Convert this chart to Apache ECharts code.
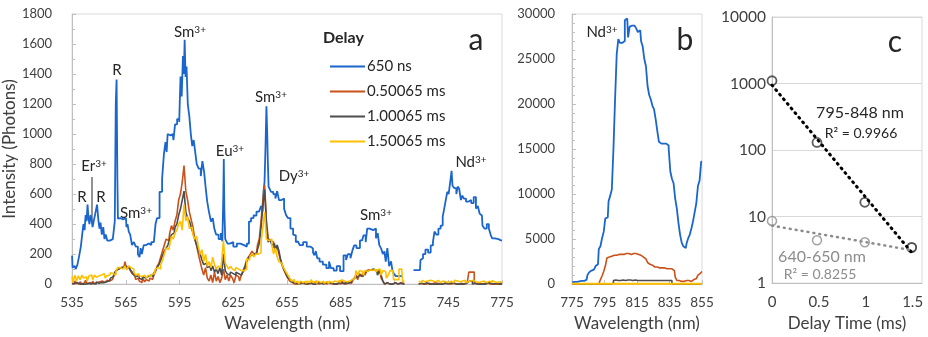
<!DOCTYPE html>
<html>
<head>
<meta charset="utf-8">
<script src="https://cdn.jsdelivr.net/npm/echarts@6/dist/echarts.min.js"></script>
<style>
html, body { margin: 0; padding: 0; background: #fff; }
#chart { width: 928px; height: 337px; }
</style>
</head>
<body>
<div id="chart"></div>
<script>
// ---- data ----
const delayNames = ['650 ns', '0.50065 ms', '1.00065 ms', '1.50065 ms'];
const ticksA = [535, 565, 595, 625, 655, 685, 715, 745, 775];
const ticksB = [775, 795, 815, 835, 855];
const ticksC = [0, 0.5, 1, 1.5];

// panel a, 650 ns (nm, photons); '-' = no data
const blueA = [
  [535,190],[535.6,110],[536.5,120],[537.5,100],[538.5,130],[539.5,190],[540.3,250],[541,330],[541.7,400],[542.3,360],
  [542.8,460],[543.4,420],[543.9,530],[544.4,440],[545,400],[545.6,460],[546.2,430],[546.7,380],[547.5,420],[548.4,470],
  [549.5,530],[550,420],[550.6,370],[551.2,410],[552,330],[552.8,380],[553.4,300],[554.2,330],[555.1,290],[557,300],
  [558.5,290],[559.2,420],[559.6,1200],[560.1,1364],[560.5,700],[560.7,437],[562,440],[563.5,430],[565.1,440],[565.6,380],
  [566.3,400],[567,350],[567.9,330],[569,260],[570,280],[571.2,250],[572.3,200],[573,180],[573.6,240],[574.3,200],
  [575.7,260],[577,270],[578.5,260],[580,280],[581.3,270],[581.9,400],[583,440],[584.7,615],[585.8,700],[586.8,870],
  [587.5,946],[588.1,880],[588.6,1000],[590,990],[591.2,1000],[592,960],[593,1065],[594.3,1100],[595.3,1080],[595.8,1384],
  [596.6,1250],[597.2,1520],[597.6,1400],[598.1,1628],[598.6,1380],[599.2,1450],[600,1200],[600.9,1119],[601.7,1000],[602.5,920],
  [603.3,960],[604.2,880],[605,800],[606.4,770],[607.3,720],[608.2,820],[609.2,748],[610,640],[610.9,549],[612,480],
  [613.1,417],[614,440],[614.8,370],[616,330],[617.6,300],[618.5,340],[619.3,285],[619.6,600],[619.8,834],[620.2,500],
  [620.8,300],[621.5,285],[622.1,270],[624,280],[626,250],[628,270],[630,260],[632,250],[633.2,270],[634.3,417],
  [635.5,440],[637.1,457],[638.8,483],[640,470],[641,520],[641.6,483],[642.2,620],[642.7,682],[643.2,900],[643.8,1185],
  [644.1,1000],[644.4,834],[645,650],[645.5,636],[646.6,615],[648,600],[649,570],[650,620],[651,560],[652.8,570],
  [653.9,503],[655,460],[656,440],[657.8,370],[659,330],[659.5,325],[660.3,280],[661.1,285],[663,260],[665,280],
  [667,250],[669,238],[670,210],[670.6,192],[671.5,220],[672.3,172],[674,150],[676,130],[677.9,106],[679,150],
  [680.1,106],[682,90],[683.5,120],[685.7,86],[687.4,192],[688.5,160],[689.5,200],[691.3,172],[692,230],[693,258],
  [694.5,240],[696.9,291],[698.5,325],[699.3,280],[700.2,370],[702,360],[704.1,370],[705.2,305],[706,340],[707,260],
  [708,238],[709,200],[709.7,218],[710.5,150],[711.5,240],[712.5,120],[713.6,152],[714.2,86],[715,70],[716.4,53],
  [722,'-'],
  [729.2,93],[729.8,160],[730.3,172],[731.5,200],[733,230],[734.5,210],[735.9,258],[737,280],[737.6,350],[739,330],
  [740,370],[741.5,390],[742.3,450],[743.2,503],[744,560],[744.9,615],[745.5,600],[746,590],[746.6,700],[747.1,755],
  [747.6,655],[749,640],[750,600],[750.6,650],[751.6,636],[752.5,560],[753.2,590],[754.3,570],[755.5,550],[757.1,560],
  [758.5,540],[759.9,580],[761,503],[762,520],[763,470],[763.8,457],[764.4,390],[766,370],[767,400],[768.3,370],
  [769,330],[770,305],[772.2,300],[773.9,291],[775,291]
];

// panel a, later delays: one value per nm from 535 to 775, null = no data (721-728)
const orangeA = [
  10,0,20,5,0,15,0,10,25,0,10,5,20,0,10,15,5,20,10,15,25,20,
  30,40,60,90,100,110,120,115,150,100,120,90,70,
  60,30,40,20,10,40,15,30,20,40,30,60,80,
  120,140,180,220,260,300,290,340,390,360,420,460,560,600,680,
  790,620,560,480,430,380,300,260,200,150,100,60,110,40,20,
  60,10,80,20,50,10,40,100,30,60,20,60,40,10,60,50,20,60,80,100,
  150,180,200,220,200,210,260,300,420,560,
  660,420,300,290,280,250,230,250,200,150,120,90,60,40,20,10,0,5,
  0,10,0,5,0,10,0,5,0,10,20,5,0,10,0,5,0,15,5,0,10,0,5,10,0,20,5,0,10,0,5,20,
  40,60,30,70,50,80,60,90,95,95,90,95,90,85,80,40,20,0,10,0,5,0,10,5,0,10,0,5,
  null,null,null,null,null,null,null,null,
  0,5,0,10,0,5,0,0,10,0,5,0,5,0,10,0,5,0,0,5,0,10,0,5,0,0,5,0,80,80,80,10,0,5,0,0,5,0,10,0,5,0,0,5,0,5,0
];
const greyA = [
  0,5,0,10,0,5,0,0,10,5,0,10,5,0,15,5,10,20,10,15,20,25,
  40,50,70,90,100,110,100,110,120,105,110,95,80,
  60,50,60,40,30,50,40,50,40,60,50,70,90,
  110,130,160,190,220,240,260,300,330,340,380,400,460,500,560,
  620,480,440,420,380,340,300,260,220,200,160,130,140,110,120,
  90,120,80,100,70,110,60,200,90,70,60,80,70,60,80,70,60,70,90,120,
  160,180,190,200,190,200,230,270,380,520,
  630,400,280,300,260,270,230,260,220,160,120,90,70,40,30,15,10,5,
  5,0,10,0,5,0,0,10,0,5,0,10,0,5,0,0,10,5,0,10,0,5,0,10,0,5,0,15,5,10,20,30,
  40,50,40,60,50,70,80,90,100,95,100,95,90,60,90,60,20,0,10,0,5,0,10,0,0,5,0,0,
  null,null,null,null,null,null,null,null,
  0,5,0,0,10,0,5,0,0,5,0,0,10,0,5,0,0,5,0,10,0,5,0,0,5,0,10,0,20,20,0,5,0,10,0,0,5,0,10,0,5,0,0,5,0,10,0
];
const yellowA = [
  50,10,60,20,55,30,60,40,50,20,55,60,30,60,45,55,60,50,70,40,55,60,
  75,70,60,85,110,110,100,110,120,95,120,110,100,
  80,60,70,55,50,60,50,40,60,50,65,70,100,
  110,100,130,160,200,240,230,260,320,300,340,360,400,420,360,
  530,420,450,370,380,330,300,320,250,200,230,150,200,120,150,
  110,180,130,100,120,110,150,290,140,120,100,120,100,90,110,100,90,90,90,100,
  170,160,190,200,180,200,200,210,280,380,
  480,300,290,300,260,200,240,180,150,140,120,100,80,60,40,20,30,10,
  20,0,20,10,20,5,20,10,30,10,20,5,20,10,20,5,15,5,20,10,20,25,15,25,10,30,20,15,25,20,30,30,
  40,90,60,90,85,60,90,85,95,95,90,100,80,95,100,60,90,85,40,60,90,90,30,30,30,100,100,20,
  null,null,null,null,null,null,null,null,
  20,10,25,15,20,10,25,20,10,15,25,20,10,20,15,25,10,20,15,10,25,20,15,10,20,25,10,15,20,10,25,15,20,10,15,25,20,10,15,20,10,25,15,10,20,15,10
];

// panel b: one value per nm from 775 to 855
const blueB = [
  200,250,200,250,300,300,350,350,400,500,
  1000,1300,1500,1600,1800,2000,2200,3900,4200,5100,
  5800,7300,7400,9200,9800,10500,15000,20500,25500,27200,
  26800,26800,27000,29300,29500,27400,28600,28700,28700,28600,
  28400,28000,28200,27000,26400,25000,24200,22000,21000,20500,
  19800,19400,18300,17000,15800,15600,15600,15400,15600,15400,
  15000,12500,11700,11200,9500,8400,6800,5500,4600,4200,
  4000,4500,5100,5500,6200,7000,8000,9000,10900,11500,13600
];
const orangeB = [
  0,0,0,0,0,0,0,0,0,0,
  0,0,0,0,0,0,0,100,500,900,
  1400,2000,2900,3000,3100,3200,3200,3200,3300,3300,
  3300,3300,3300,3400,3400,3400,3300,3400,3400,3400,
  3400,3300,3200,3100,3000,2800,2600,2400,2200,2100,
  2000,1900,1900,1800,1800,1800,1800,1800,1700,1700,
  1700,1700,1700,1500,800,400,400,300,400,300,
  400,300,400,300,400,500,600,800,1000,1200,1400
];
const greyB = [
  0,0,0,0,0,0,0,0,0,0,
  0,0,0,0,0,0,0,0,0,0,
  0,0,0,0,0,100,400,450,400,450,
  400,450,400,400,450,400,450,400,400,450,
  400,450,400,400,450,400,400,450,400,400,
  450,400,400,450,400,400,450,400,400,400,
  400,400,0,0,0,0,0,0,0,0,
  0,0,0,0,0,0,0,0,0,0,0
];
const yellowB = [
  50,50,50,50,50,50,50,50,50,50,
  50,50,50,50,50,50,50,50,50,50,
  50,50,50,50,50,50,50,50,50,50,
  50,50,50,50,50,50,50,50,50,50,
  50,50,50,50,50,50,50,50,50,50,
  50,50,50,50,50,50,50,50,50,50,
  50,50,50,50,50,50,50,50,50,50,
  50,50,50,50,50,50,50,50,50,50,50
];

// panel c: integrated intensity vs delay
const delayC = [0, 0.48, 0.99, 1.49];
const nd795 = [1100, 130, 16.4, 3.45];
const sm640 = [8.6, 4.4, 4.1, 3.4];

// ---- helpers ----
const FONT = 'Lato, "Noto Sans", sans-serif';
const TXT = '#404040';
const colors = ['#1a66cc', '#c9511a', '#4d4d4d', '#ffc000'];

function onGrid(start, vals) {
  return vals.map((v, i) => [start + i, v == null ? '-' : v]);
}

// exponential trendline y = a*exp(b*x), like the spreadsheet fit
function expTrend(xs, ys, x0, x1) {
  const n = xs.length;
  const ly = ys.map(Math.log);
  const mx = xs.reduce((s, v) => s + v, 0) / n;
  const my = ly.reduce((s, v) => s + v, 0) / n;
  let sxy = 0, sxx = 0;
  for (let i = 0; i < n; i++) {
    sxy += (xs[i] - mx) * (ly[i] - my);
    sxx += (xs[i] - mx) * (xs[i] - mx);
  }
  const b = sxy / sxx;
  const a = Math.exp(my - b * mx);
  return [[x0, a * Math.exp(b * x0)], [x1, a * Math.exp(b * x1)]];
}

const axisLineStyle = { lineStyle: { color: '#bfbfbf', width: 1 } };
const labelStyle = (size) => ({ color: TXT, fontFamily: FONT, fontSize: size });
const noComma = (v) => String(v);

function specLine(name, data, color, xi, width) {
  return {
    name: name, type: 'line', xAxisIndex: xi, yAxisIndex: xi,
    data: data, step: 'middle', showSymbol: false, symbol: 'none',
    lineStyle: { color: color, width: width || 1.6 }, itemStyle: { color: color },
    connectNulls: false, silent: true
  };
}

function sup(x, y, base, s, size) {
  return {
    type: 'text', x: x, y: y, silent: true,
    style: {
      text: '{b|' + base + '}' + (s ? '{s|' + s + '}' : ''),
      align: 'center', verticalAlign: 'middle',
      textAlign: 'center', textVerticalAlign: 'middle',
      rich: {
        b: { fontSize: size || 15, fontFamily: FONT, fill: '#262626', color: '#262626' },
        s: { fontSize: 10, fontFamily: FONT, fill: '#262626', color: '#262626', verticalAlign: 'top' }
      }
    }
  };
}

function plain(x, y, text, size, color, weight, align) {
  return {
    type: 'text', x: x, y: y, silent: true,
    style: {
      text: text, fill: color || '#262626',
      font: (weight || 'normal') + ' ' + size + 'px ' + FONT,
      align: align || 'center', verticalAlign: 'middle',
      textAlign: align || 'center', textVerticalAlign: 'middle'
    }
  };
}

const chart = echarts.init(document.getElementById('chart'), null, { renderer: 'canvas' });

const option = {
  animation: false,
  backgroundColor: '#fff',
  textStyle: { fontFamily: FONT },
  grid: [
    { left: 72, top: 14, width: 430, height: 272, show: true, borderColor: '#d9d9d9', borderWidth: 1, backgroundColor: 'transparent' },
    { left: 572, top: 14, width: 130, height: 272, show: true, borderColor: '#d9d9d9', borderWidth: 1, backgroundColor: 'transparent' },
    { left: 772, top: 17, width: 150, height: 270, show: true, borderColor: '#d9d9d9', borderWidth: 1, backgroundColor: 'transparent' }
  ],
  legend: {
    data: delayNames, orient: 'vertical', left: 325, top: 54,
    icon: 'rect', itemWidth: 35, itemHeight: 2, itemGap: 10,
    textStyle: { color: '#262626', fontFamily: FONT, fontSize: 15, padding: [0, 0, 0, -3] },
    selectedMode: false
  },
  xAxis: [
    {
      gridIndex: 0, type: 'value', min: 535, max: 775,
      name: 'Wavelength (nm)', nameLocation: 'middle', nameGap: 29,
      nameTextStyle: labelStyle(17),
      axisLine: axisLineStyle, splitLine: { show: false },
      axisTick: { show: true, inside: true, length: 4, customValues: ticksA, lineStyle: { color: '#bfbfbf' } },
      axisLabel: Object.assign(labelStyle(13.5), { margin: 12, customValues: ticksA, formatter: noComma })
    },
    {
      gridIndex: 1, type: 'value', min: 775, max: 855,
      name: 'Wavelength (nm)', nameLocation: 'middle', nameGap: 29,
      nameTextStyle: labelStyle(17),
      axisLine: axisLineStyle, splitLine: { show: false },
      axisTick: { show: true, inside: true, length: 4, customValues: ticksB, lineStyle: { color: '#bfbfbf' } },
      axisLabel: Object.assign(labelStyle(13.5), { margin: 12, customValues: ticksB, formatter: noComma })
    },
    {
      gridIndex: 2, type: 'value', min: 0, max: 1.6,
      name: 'Delay Time (ms)', nameLocation: 'middle', nameGap: 29,
      nameTextStyle: labelStyle(17),
      axisLine: axisLineStyle, splitLine: { show: false },
      axisTick: { show: false },
      axisLabel: Object.assign(labelStyle(15), { margin: 12, customValues: ticksC, formatter: noComma })
    }
  ],
  yAxis: [
    {
      gridIndex: 0, type: 'value', min: 0, max: 1800, interval: 200,
      name: 'Intensity (Photons)', nameLocation: 'middle', nameGap: 46,
      nameTextStyle: labelStyle(17),
      axisLine: { show: true, lineStyle: { color: '#bfbfbf' } }, splitLine: { show: false },
      axisTick: { show: true, inside: true, length: 4, lineStyle: { color: '#bfbfbf' } },
      minorTick: { show: true, splitNumber: 2, length: 3, lineStyle: { color: '#bfbfbf' } },
      axisLabel: Object.assign(labelStyle(13), { margin: 20, formatter: noComma })
    },
    {
      gridIndex: 1, type: 'value', min: 0, max: 30000, interval: 5000,
      axisLine: { show: true, lineStyle: { color: '#bfbfbf' } }, splitLine: { show: false },
      axisTick: { show: true, inside: true, length: 4, lineStyle: { color: '#bfbfbf' } },
      minorTick: { show: true, splitNumber: 5, length: 3, lineStyle: { color: '#bfbfbf' } },
      axisLabel: Object.assign(labelStyle(13), { margin: 17, formatter: noComma })
    },
    {
      gridIndex: 2, type: 'log', logBase: 10, min: 1, max: 10000,
      axisLine: { show: true, lineStyle: { color: '#bfbfbf' } },
      splitLine: { show: true, lineStyle: { color: '#d9d9d9' } },
      axisTick: { show: false },
      axisLabel: Object.assign(labelStyle(15.5), { margin: 6, formatter: noComma })
    }
  ],
  series: [
    specLine(delayNames[0], blueA, colors[0], 0, 1.8),
    specLine(delayNames[1], onGrid(535, orangeA), colors[1], 0),
    specLine(delayNames[2], onGrid(535, greyA), colors[2], 0),
    specLine(delayNames[3], onGrid(535, yellowA), colors[3], 0),
    specLine(delayNames[0], onGrid(775, blueB), colors[0], 1, 1.8),
    specLine(delayNames[1], onGrid(775, orangeB), colors[1], 1),
    specLine(delayNames[2], onGrid(775, greyB), colors[2], 1),
    specLine(delayNames[3], onGrid(775, yellowB), colors[3], 1, 2),
    {
      name: '795-848 fit', type: 'line', xAxisIndex: 2, yAxisIndex: 2, silent: true,
      data: expTrend(delayC, nd795, 0, 1.5), showSymbol: false, symbol: 'none',
      lineStyle: { color: '#000', width: 3, type: [1, 5], cap: 'round' }
    },
    {
      name: '640-650 fit', type: 'line', xAxisIndex: 2, yAxisIndex: 2, silent: true,
      data: expTrend(delayC, sm640, 0, 1.5), showSymbol: false, symbol: 'none',
      lineStyle: { color: '#8c8c8c', width: 2.5, type: [1, 5], cap: 'round' }
    },
    {
      name: '640-650 nm', type: 'scatter', xAxisIndex: 2, yAxisIndex: 2, silent: true,
      data: delayC.map((x, i) => [x, sm640[i]]), symbol: 'circle', symbolSize: 9,
      itemStyle: { color: 'rgba(255,255,255,0)', borderColor: '#8c8c8c', borderWidth: 1.5 }
    },
    {
      name: '795-848 nm', type: 'scatter', xAxisIndex: 2, yAxisIndex: 2, silent: true,
      data: delayC.map((x, i) => [x, nd795[i]]), symbol: 'circle', symbolSize: 9,
      itemStyle: { color: 'rgba(255,255,255,0)', borderColor: '#333', borderWidth: 1.8 }
    }
  ],
  graphic: [
    plain(323, 38, 'Delay', 16, '#262626', 'bold', 'left'),
    plain(476, 40, 'a', 30),
    plain(685, 40, 'b', 30),
    plain(895, 42, 'c', 30),
    sup(190, 32, 'Sm', '3+'),
    sup(117, 70, 'R'),
    sup(94, 166, 'Er', '3+'),
    sup(82, 197, 'R'),
    sup(101, 197, 'R'),
    sup(136, 213, 'Sm', '3+'),
    sup(230, 151, 'Eu', '3+'),
    sup(271, 97, 'Sm', '3+'),
    sup(294, 176, 'Dy', '3+'),
    sup(376, 215, 'Sm', '3+'),
    sup(471, 162, 'Nd', '3+'),
    sup(602, 32, 'Nd', '3+'),
    { type: 'line', silent: true, shape: { x1: 92, y1: 177, x2: 92, y2: 223 }, style: { stroke: '#262626', lineWidth: 1 } },
    plain(860, 113, '795-848 nm', 16),
    plain(861, 133, 'R² = 0.9966', 14),
    plain(822, 257, '640-650 nm', 16, '#8c8c8c'),
    plain(820, 274, 'R² = 0.8255', 14, '#8c8c8c')
  ]
};

chart.setOption(option);
</script>
</body>
</html>
